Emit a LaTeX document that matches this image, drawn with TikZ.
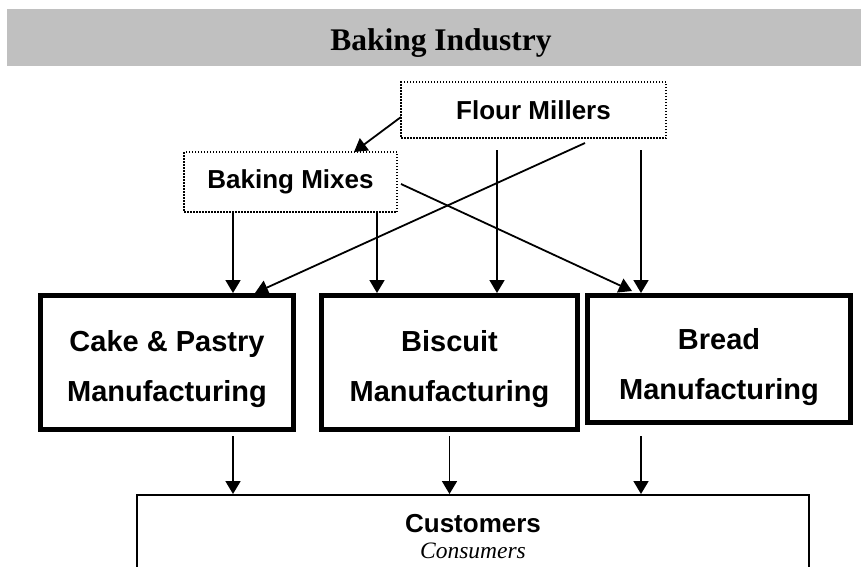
\documentclass[tikz,border=0pt]{standalone}
\usepackage{fontspec}
\setmainfont{Liberation Serif}
\setsansfont{Liberation Sans}
\usetikzlibrary{arrows.meta,calc}
\definecolor{bandgray}{RGB}{192,192,192}
\tikzset{%
  >={Triangle[width=15pt,length=13pt]},
  % Specifications for style of nodes:
          banner/.style = {rectangle, fill=bandgray, minimum width=854pt,
                           minimum height=57pt},
        supplier/.style = {rectangle, draw=black, line width=1.5pt,
                           dash pattern=on 1.5pt off 1.5pt, outer sep=0pt,
                           font=\sffamily\bfseries\fontsize{26pt}{30pt}\selectfont},
    manufacturer/.style = {rectangle, draw=black, line width=5pt},
         mfgtext/.style = {align=center,
                           font=\sffamily\bfseries\fontsize{29pt}{50pt}\selectfont},
        customer/.style = {rectangle, draw=black, line width=2pt,
                           minimum width=672pt, minimum height=120pt},
            flow/.style = {->, line width=1.8pt},
}

\begin{document}
\begin{tikzpicture}[x=1pt, y=-1pt, inner sep=0pt]

  \clip (0,0) rectangle (861,566);

  \node (banner)   [banner] at (434,37.5) {};
  \node (title)    [anchor=base, font=\bfseries\fontsize{31.5pt}{36pt}\selectfont]
                   at (441,50) {Baking Industry};

  \node (flour)    [supplier, minimum width=265pt, minimum height=56pt] at (533.5,110) {Flour Millers};
  \node (mixes)    [supplier, minimum width=213pt, minimum height=60pt] at (290.5,182) {Baking Mixes};

  \node (cake)     [manufacturer, minimum width=253pt, minimum height=134pt] at (167,362.5) {};
  \node (biscuit)  [manufacturer, minimum width=256pt, minimum height=134pt] at (449.5,362.5) {};
  \node (bread)    [manufacturer, minimum width=263pt, minimum height=127pt] at (719,359) {};

  \node (cake-text)    [mfgtext] at ($ (cake) + (0,6.5) $)    {Cake \& Pastry\\Manufacturing};
  \node (biscuit-text) [mfgtext] at ($ (biscuit) + (0,7) $)  {Biscuit\\Manufacturing};
  \node (bread-text)   [mfgtext] at ($ (bread) + (0,8.5) $)  {Bread\\Manufacturing};

  \node (customers) [customer, anchor=north] at (473,494) {};
  \node (customers-text) [anchor=base, font=\sffamily\bfseries\fontsize{26pt}{30pt}\selectfont]
                   at (473,532) {Customers};
  \node (consumers-text) [anchor=base, font=\itshape\fontsize{23.5pt}{28pt}\selectfont]
                   at (473,558) {Consumers};

  % flour millers
  \draw[flow] ($ (flour.west) + (0,7) $)      -- ($ (mixes.north) + (63.5,0) $);
  \draw[flow] ($ (flour.south) + (51.5,5) $)  -- ($ (cake.north) + (88,0) $);
  \draw[flow] ($ (flour.south) + (-36.5,12) $) -- ($ (biscuit.north) + (47.5,0) $);
  \draw[flow] ($ (flour.south) + (107.5,12) $) -- ($ (bread.north) + (-78,0) $);

  % baking mixes
  \draw[flow] ($ (mixes.south) + (-57.5,0) $) -- ($ (cake.north) + (66,0) $);
  \draw[flow] ($ (mixes.south) + (86.5,0) $)  -- ($ (biscuit.north) + (-72.5,0) $);
  \draw[flow] ($ (mixes.east) + (4,2) $)      -- ($ (bread.north) + (-87,-2) $);

  % to customers
  \draw[flow] ($ (cake.south) + (66,4) $)     -- ($ (customers.north) + (-240,0) $);
  \draw[flow] ($ (biscuit.south) + (0,4) $)   -- ($ (customers.north) + (-23.5,0) $);
  \draw[flow] ($ (bread.south) + (-78,11) $)  -- ($ (customers.north) + (168,0) $);

\end{tikzpicture}
\end{document}
